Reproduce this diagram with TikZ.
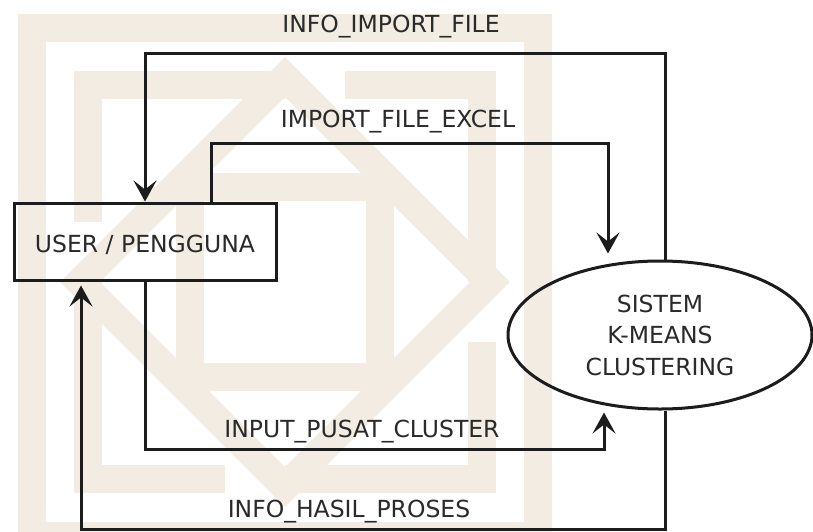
\documentclass[tikz,border=0pt]{standalone}
\usepackage{fontspec}
\setmainfont{DejaVu Sans}
\usetikzlibrary{arrows.meta,shapes.geometric,calc}
\definecolor{ink}{HTML}{1C1C1C}
\definecolor{txt}{HTML}{2A2A2A}
\definecolor{wmark}{HTML}{F2ECE2}
\begin{document}
\begin{tikzpicture}[x=1pt,y=-1pt,
  wm/.style={draw=wmark,line width=28pt,line join=miter},
  entity/.style={draw=ink,line width=3pt,rectangle,minimum width=262pt,minimum height=77pt,
    inner sep=0pt,text=txt,font=\fontsize{23.5}{28}\selectfont,text height=21pt,text depth=0pt},
  process/.style={draw=ink,line width=3pt,ellipse,minimum width=304pt,minimum height=148pt,
    inner sep=0pt,align=center,text=txt,font=\fontsize{23.5}{31.5}\selectfont},
  flow/.style={draw=ink,line width=3pt,line join=miter,-{Stealth[length=21pt,width=23pt,inset=9pt]}},
  lbl/.style={anchor=base,text=txt,font=\fontsize{23.5}{28}\selectfont,inner sep=0pt}]

\useasboundingbox (0,0) rectangle (813,531);
\fill[white] (0,0) rectangle (813,531);

% faint ornamental background motif
\begin{scope}
  \clip (0,0) rectangle (813,531);
  \begin{scope}[shift={(285,282)}]
    \draw[wm] (-253,-254) rectangle (253,254);
    \foreach \r in {0,90,180,270}{
      \draw[wm,rotate=\r] (-197,-60) -- (-197,-197) -- (0,-197);
    }
    \draw[wm] (0,-205) -- (205,0) -- (0,205) -- (-205,0) -- cycle;
    \draw[wm] (-95,-95) rectangle (95,95);
  \end{scope}
\end{scope}

% entities
\node[entity]  (user) at (145,241.5) {USER / PENGGUNA};
\node[process] (sys)  at (660,335)   {SISTEM\\K-MEANS\\CLUSTERING};

% routing levels
\coordinate (r1) at (0,53);
\coordinate (r2) at (0,143);
\coordinate (r3) at (0,449);
\coordinate (r4) at (0,529);

% flow ends
\coordinate (s1) at ([xshift=5pt]sys.north);
\coordinate (s2) at ([xshift=66pt]user.north);
\coordinate (e2) at ([xshift=-52pt,yshift=6pt]sys.north);
\coordinate (e3) at ([xshift=-56pt,yshift=-2pt]sys.south);
\coordinate (s4) at ([xshift=5pt]sys.south);
\coordinate (e4) at ([xshift=-64pt,yshift=-4pt]user.south);

% data flows
\draw[flow] (s1) -- (s1 |- r1) -| (user.north);
\draw[flow] (s2) |- (e2 |- r2) -- (e2);
\draw[flow] (user.south) |- (e3 |- r3) -- (e3);
\draw[flow] (s4) |- (e4 |- r4) -- (e4);

% flow labels
\node[lbl] (l1) at (391,32.3) {INFO\_IMPORT\_FILE};
\node[lbl] (l2) at (398,127)  {IMPORT\_FILE\_EXCEL};
\node[lbl] (l3) at (362,437)  {INPUT\_PUSAT\_CLUSTER};
\node[lbl] (l4) at (349,517)  {INFO\_HASIL\_PROSES};
\end{tikzpicture}
\end{document}
